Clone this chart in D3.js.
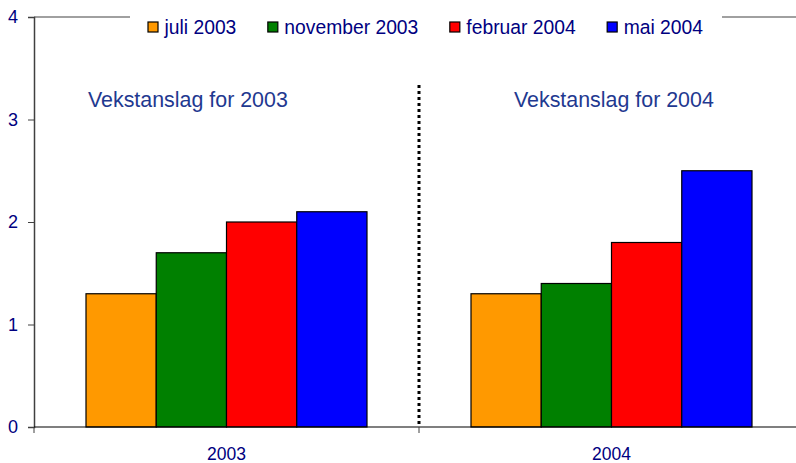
<!DOCTYPE html>
<html>
<head>
<meta charset="utf-8">
<script src="https://cdn.jsdelivr.net/npm/d3@7"></script>
<style>
  body { margin: 0; background: #fff; }
  text { font-family: "Liberation Sans", Arial, sans-serif; }
</style>
</head>
<body>
<div id="canvas"></div>
<script>
// data
const years = ["2003", "2004"];
const series = ["juli 2003", "november 2003", "februar 2004", "mai 2004"];
const values2003 = [1.3, 1.7, 2.0, 2.1];
const values2004 = [1.3, 1.4, 1.8, 2.5];
const notes = ["Vekstanslag for 2003", "Vekstanslag for 2004"];
const yTicks = [0, 1, 2, 3, 4];

const colors = ["#ff9900", "#008000", "#ff0000", "#0000ff"];

const width = 796;
const height = 463;
const margin = { top: 17, right: -8, bottom: 36, left: 34 }; // plot runs off the right edge

const svg = d3.select("#canvas")
    .append("svg")
    .attr("width", width)
    .attr("height", height);

const x0 = d3.scaleBand()
    .domain(years)
    .range([margin.left, width - margin.right]);

const x1 = d3.scaleBand()
    .domain(series)
    .range([52, x0.bandwidth() - 52]);

const y = d3.scaleLinear()
    .domain([0, 4])
    .range([height - margin.bottom, margin.top]);

// top frame line (legend box covers the middle of it)
svg.append("line")
    .attr("x1", margin.left).attr("x2", width)
    .attr("y1", y(4)).attr("y2", y(4))
    .attr("stroke", "#808080").attr("stroke-width", 1.5);

// bars
const rows = years.map((yr, i) => ({ year: yr, vals: i === 0 ? values2003 : values2004 }));
const groups = svg.selectAll("g.group")
    .data(rows)
    .join("g")
    .attr("class", "group")
    .attr("transform", d => `translate(${x0(d.year)},0)`);

groups.selectAll("rect")
    .data(d => d.vals.map((v, i) => ({ s: series[i], v: v, c: colors[i] })))
    .join("rect")
    .attr("x", d => x1(d.s))
    .attr("y", d => y(d.v))
    .attr("width", x1.bandwidth())
    .attr("height", d => y(0) - y(d.v))
    .attr("fill", d => d.c)
    .attr("stroke", "#000")
    .attr("stroke-width", 1.2);

// dotted divider between years
svg.append("line")
    .attr("x1", x0("2004")).attr("x2", x0("2004"))
    .attr("y1", 85).attr("y2", y(0))
    .attr("stroke", "#000")
    .attr("stroke-width", 3)
    .attr("stroke-dasharray", "3,3");

// annotations
svg.selectAll("text.note")
    .data(notes)
    .join("text")
    .attr("class", "note")
    .attr("x", (d, i) => x0(years[i]) + (i === 0 ? 54 : 95))
    .attr("y", 107)
    .attr("fill", "#1f3990")
    .attr("font-size", "21.4px")
    .text(d => d);

// y axis
const yAxis = svg.append("g")
    .attr("transform", `translate(${margin.left},0)`)
    .call(d3.axisLeft(y).tickValues(yTicks).tickFormat(d3.format("d")).tickSize(6).tickPadding(10));
yAxis.select(".domain").attr("stroke", "#404040").attr("stroke-width", 1.5);
yAxis.selectAll(".tick line").attr("stroke", "#404040");
yAxis.selectAll(".tick text")
    .attr("fill", "#000080")
    .attr("font-size", "18px")
    .attr("font-family", "Liberation Sans, Arial, sans-serif");

// x axis: line with ticks at category boundaries
svg.append("line")
    .attr("x1", margin.left).attr("x2", width)
    .attr("y1", y(0)).attr("y2", y(0))
    .attr("stroke", "#000").attr("stroke-width", 1.2);

svg.selectAll("line.xtick")
    .data(years)
    .join("line")
    .attr("class", "xtick")
    .attr("x1", d => x0(d)).attr("x2", d => x0(d))
    .attr("y1", y(0)).attr("y2", y(0) + 6)
    .attr("stroke", "#404040");

svg.selectAll("text.xlabel")
    .data(years)
    .join("text")
    .attr("class", "xlabel")
    .attr("x", d => x0(d) + x0.bandwidth() / 2)
    .attr("y", y(0) + 33)
    .attr("text-anchor", "middle")
    .attr("fill", "#000080")
    .attr("font-size", "17.5px")
    .text(d => d);

// legend
svg.append("rect")
    .attr("x", 130).attr("y", 4)
    .attr("width", 592).attr("height", 34)
    .attr("fill", "#fff");

const legend = svg.append("g");
let lx = 148;
series.forEach((s, i) => {
    legend.append("rect")
        .attr("x", lx).attr("y", 22)
        .attr("width", 10).attr("height", 10)
        .attr("fill", colors[i])
        .attr("stroke", "#000")
        .attr("stroke-width", 1.2);
    const t = legend.append("text")
        .attr("x", lx + 16.5)
        .attr("y", 34)
        .attr("fill", "#000080")
        .attr("font-size", "19.3px")
        .text(s);
    lx += 16.5 + t.node().getComputedTextLength() + 31.5;
});
</script>
</body>
</html>
